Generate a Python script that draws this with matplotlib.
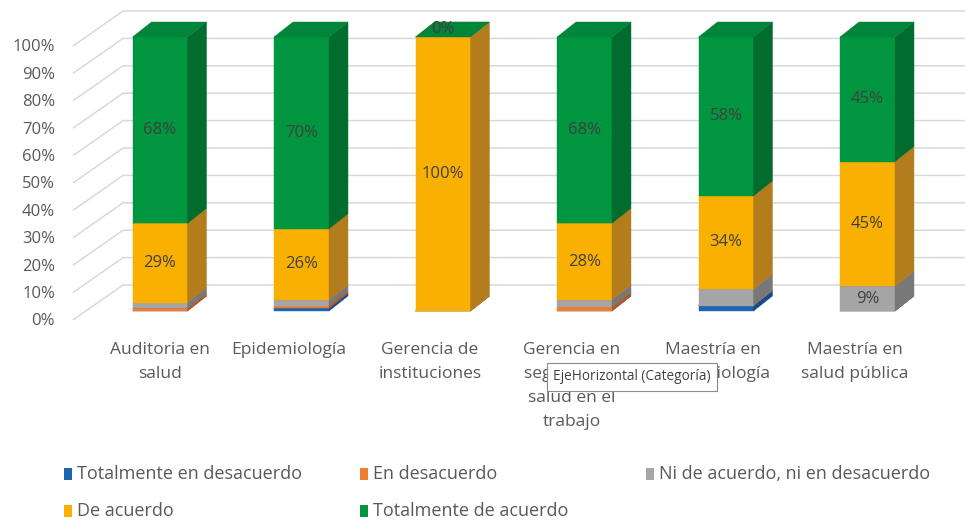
import matplotlib.pyplot as plt
from matplotlib.patches import Polygon, Rectangle

categorias = ["Auditoria en\nsalud", "Epidemiología", "Gerencia de\ninstituciones",
              "Gerencia en\nseguridad y\nsalud en el\ntrabajo", "Maestría en\nepidemiología",
              "Maestría en\nsalud pública"]
series = ["Totalmente en desacuerdo", "En desacuerdo", "Ni de acuerdo, ni en desacuerdo",
          "De acuerdo", "Totalmente de acuerdo"]
totalmente_desacuerdo = [0, 1, 0, 0, 2, 0]
en_desacuerdo = [1, 1, 0, 1.5, 0, 0]
ni_acuerdo = [2, 2, 0, 2.5, 6, 9.1]
de_acuerdo = [29, 26, 100, 28, 34, 45.45]
totalmente_acuerdo = [68, 70, 0, 68, 58, 45.45]
valores = [totalmente_desacuerdo, en_desacuerdo, ni_acuerdo, de_acuerdo, totalmente_acuerdo]
colores = ["#1F64B0", "#ED7D31", "#A5A5A5", "#FAB000", "#00963F"]
colores_lado = ["#174B86", "#B25A28", "#787878", "#B37D1E", "#006C2E"]
colores_tapa = ["#1B579A", "#D06E2B", "#909090", "#D99A10", "#00853A"]

W, H = 965, 521
fig = plt.figure(figsize=(W / 100, H / 100), dpi=100)
ax = fig.add_axes([0, 0, 1, 1])
# escala: 1 categoria = 141.5 px, 1 % = 2.74 px
PXX, PXY = 141.5, 2.74
ax.set_xlim(-160 / PXX, (W - 160) / PXX)
ax.set_ylim(-(H - 311) / PXY, 311 / PXY)
ax.axis("off")

fuente = "Open Sans"
gris_txt = "#595959"

# paredes / lineas de cuadricula
wf_x, wf_dy = (73 - 160) / PXX, -9 / PXY
wb_x, wb_dy = (123 - 160) / PXX, 26 / PXY
x_fin = (W - 160) / PXX
for p in range(0, 101, 10):
    ax.plot([wf_x, wb_x, x_fin], [p + wf_dy, p + wb_dy, p + wb_dy],
            color="#D9D9D9", lw=1.1, zorder=1, solid_capstyle="butt")
    ax.text(wf_x - 18 / PXX, p + wf_dy - 0.5, f"{p}%", ha="right", va="center",
            fontsize=12, color=gris_txt, family=fuente)

half = 27.5 / PXX
bdx, bdy = 19 / PXX, 15 / PXY
z = 2
for i in range(len(categorias)):
    base = 0
    for s, vals in enumerate(valores):
        v = vals[i]
        x0, x1 = i - half, i + half
        y0, y1 = base, base + v
        c, lado, tapa = colores[s], colores_lado[s], colores_tapa[s]
        if v > 0:
            ax.add_patch(Rectangle((x0, y0), 2 * half, v, facecolor=c, edgecolor=c, lw=0.3, zorder=z))
            ax.add_patch(Polygon([(x1, y0), (x1 + bdx, y0 + bdy), (x1 + bdx, y1 + bdy), (x1, y1)],
                                 facecolor=lado, edgecolor=lado, lw=0.3, zorder=z))
        ax.add_patch(Polygon([(x0, y1), (x1, y1), (x1 + bdx, y1 + bdy), (x0 + bdx, y1 + bdy)],
                             facecolor=tapa, edgecolor=tapa, lw=0.3, zorder=z))
        z += 1
        if s >= 3 or v >= 8:
            if v > 0:
                ax.text(i, (y0 + y1) / 2, f"{v:.0f}%", ha="center", va="center",
                        fontsize=12, color="#404040", family=fuente, zorder=100)
            else:
                ax.text(i, y1 + bdy * 0.55, f"{v:.0f}%", ha="center", va="center",
                        fontsize=12, color="#404040", family=fuente, zorder=100)
        base = y1

# etiquetas de categoria
for i, cat in enumerate(categorias):
    dx = 0 if i == 0 else -13
    ax.text(i + dx / PXX, -(342 - 311) / PXY, cat, ha="center", va="top", fontsize=12.5,
            color=gris_txt, family=fuente, linespacing=1.68, zorder=5)

# tooltip de Excel
fig.text(553 / W, 1 - 377 / H, "EjeHorizontal (Categoría)", ha="left", va="center",
         fontsize=9.8, color="#404040", family=fuente, zorder=200,
         bbox=dict(boxstyle="square,pad=0.45", facecolor="white", edgecolor="#8A8A8A", lw=0.8))

# leyenda
pos_leyenda = [(64, 474), (360, 474), (646, 474), (64, 511), (360, 511)]
for (lx, ly), nombre, c in zip(pos_leyenda, series, colores):
    fig.patches.append(Rectangle((lx / W, 1 - (ly + 6) / H), 8 / W, 12 / H, facecolor=c,
                                 edgecolor="none", transform=fig.transFigure, figure=fig))
    fig.text((lx + 13) / W, 1 - ly / H, nombre, ha="left", va="center", fontsize=13,
             color=gris_txt, family=fuente)

fig.savefig("out.png", dpi=100)
